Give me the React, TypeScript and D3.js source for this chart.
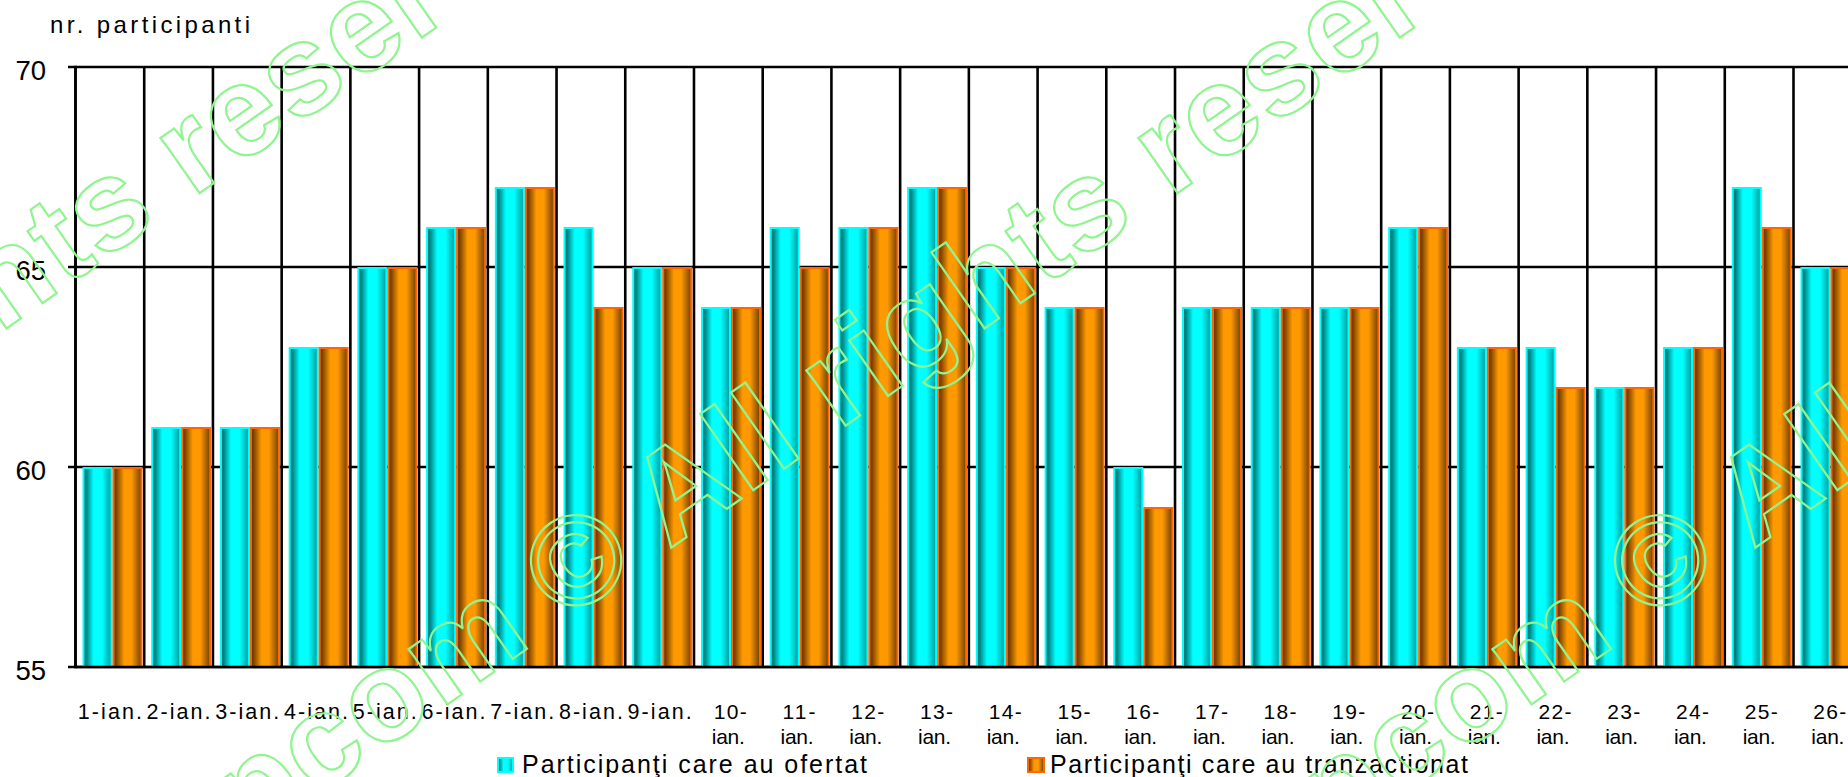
import React, { useEffect } from 'react';
import * as d3 from 'd3';

const categories = ['1-ian.', '2-ian.', '3-ian.', '4-ian.', '5-ian.', '6-ian.', '7-ian.', '8-ian.', '9-ian.', '10-ian.', '11-ian.', '12-ian.', '13-ian.', '14-ian.', '15-ian.', '16-ian.', '17-ian.', '18-ian.', '19-ian.', '20-ian.', '21-ian.', '22-ian.', '23-ian.', '24-ian.', '25-ian.', '26-ian.'];
const ofertat = [60, 61, 61, 63, 65, 66, 67, 66, 65, 64, 66, 66, 67, 65, 64, 60, 64, 64, 64, 66, 63, 63, 62, 63, 67, 65];
const tranzactionat = [60, 61, 61, 63, 65, 66, 67, 64, 65, 64, 65, 66, 67, 65, 64, 59, 64, 64, 64, 66, 63, 62, 62, 63, 66, 65];
const seriesNames = ['Participanţi care au ofertat', 'Participanţi care au tranzactionat'];
const yTicks = [55, 60, 65, 70];
const yTitle = 'nr. participanti';
const watermarkPre = 'opcom';
const watermarkPost = '© All rights reserved';

const W = 1848;
const H = 777;
const FONT = "'Liberation Sans', Arial, sans-serif";

export default function App() {
  useEffect(() => {
    document.body.style.margin = '0';
    document.body.style.overflow = 'hidden';
  }, []);

  const left = 75.5;
  const slot = 68.72;
  const x = d3.scaleBand<string>().domain(categories).range([left, left + categories.length * slot]).padding(0);
  const y = d3.scaleLinear().domain([55, 70]).range([667, 67]);
  const xs = d3.scaleBand<string>().domain(['a', 'b']).range([7, 67]).padding(0);
  const bw = xs.bandwidth();
  const plotRight = W + 20;

  const series = [
    { key: 'a', values: ofertat, grad: 'gCyan', stroke: '#00FFFF' },
    { key: 'b', values: tranzactionat, grad: 'gOrange', stroke: '#FF6600' },
  ];

  const boundaries = d3.range(categories.length + 1).map((i) => left + i * slot);
  const wmCenters = [-400, 578, 1662];

  return (
    <svg width={W} height={H} style={{ position: 'absolute', left: 0, top: 0, background: '#fff' }} fontFamily={FONT}>
      <defs>
        <linearGradient id="gCyan" x1="0" x2="1" y1="0" y2="0">
          <stop offset="0" stopColor="#007070" />
          <stop offset="0.1" stopColor="#008282" />
          <stop offset="0.36" stopColor="#00ffff" />
          <stop offset="0.66" stopColor="#00ffff" />
          <stop offset="1" stopColor="#009a9a" />
        </linearGradient>
        <linearGradient id="gOrange" x1="0" x2="1" y1="0" y2="0">
          <stop offset="0" stopColor="#663400" />
          <stop offset="0.1" stopColor="#7c4400" />
          <stop offset="0.38" stopColor="#ff9900" />
          <stop offset="0.64" stopColor="#ff9900" />
          <stop offset="1" stopColor="#704000" />
        </linearGradient>
      </defs>
      <rect x={0} y={0} width={W} height={H} fill="#fff" />

      {/* title */}
      <text x={50} y={33} fontSize={24} textLength={200} lengthAdjust="spacing" fill="#000">{yTitle}</text>

      {/* horizontal gridlines */}
      {yTicks.map((t) => (
        <line key={'h' + t} x1={68} x2={plotRight} y1={y(t)} y2={y(t)} stroke="#000" strokeWidth={2.6} />
      ))}
      {/* vertical gridlines */}
      {boundaries.map((b, i) => (
        <line key={'v' + i} x1={b} x2={b} y1={y(70)} y2={y(55)} stroke="#000" strokeWidth={2.6} />
      ))}

      {/* y labels */}
      {yTicks.map((t) => (
        <text key={'yl' + t} x={46} y={y(t) + 13} fontSize={27.5} textAnchor="end" fill="#000">{t}</text>
      ))}

      {/* bars */}
      {series.map((s) =>
        categories.map((c, i) => {
          const bx = (x(c) as number) + (xs(s.key) as number);
          const top = y(s.values[i]);
          return (
            <rect
              key={s.key + c}
              x={bx + 1}
              y={top + 1}
              width={bw - 2}
              height={y(55) - top - 1}
              fill={`url(#${s.grad})`}
              stroke={s.stroke}
              strokeWidth={2}
            />
          );
        })
      )}

      {/* axis line on top */}
      <line x1={left} x2={left} y1={y(70) - 1.3} y2={y(55) + 1.3} stroke="#000" strokeWidth={2.6} />
      <line x1={left} x2={plotRight} y1={y(55)} y2={y(55)} stroke="#000" strokeWidth={2.6} />

      {/* x labels */}
      {categories.map((c) => {
        const cx = (x(c) as number) + slot / 2;
        const parts = c.split('-');
        if (parts[0].length === 1) {
          return (
            <text key={'xl' + c} x={cx} y={719} fontSize={21.5} textAnchor="middle" textLength={64} lengthAdjust="spacing" fill="#000">{c}</text>
          );
        }
        return (
          <g key={'xl' + c}>
            <text x={cx + 2} y={719} fontSize={21} textAnchor="middle" textLength={33} lengthAdjust="spacing" fill="#000">{parts[0] + '-'}</text>
            <text x={cx} y={744} fontSize={21} textAnchor="middle" textLength={33} lengthAdjust="spacing" fill="#000">{parts[1]}</text>
          </g>
        );
      })}

      {/* legend */}
      <rect x={498} y={758} width={15} height={14} fill="url(#gCyan)" stroke="#00FFFF" strokeWidth={2} />
      <text x={522} y={772.5} fontSize={25} textLength={345} lengthAdjust="spacing" fill="#000">{seriesNames[0]}</text>
      <rect x={1028} y={758} width={16} height={14} fill="url(#gOrange)" stroke="#FF6600" strokeWidth={2} />
      <text x={1050} y={772.5} fontSize={25} textLength={418} lengthAdjust="spacing" fill="#000">{seriesNames[1]}</text>

      {/* watermark */}
      {wmCenters.map((cx, i) => (
        <g key={'wm' + i} transform={`translate(${cx},558) rotate(-35)`} fill="none" stroke="#90f590" strokeWidth={2.2} fontSize={128} fontWeight="bold" letterSpacing={2}>
          <text x={-84} y={45} textAnchor="end">{watermarkPre}</text>
          <text x={-50} y={45}>{watermarkPost}</text>
        </g>
      ))}
    </svg>
  );
}
